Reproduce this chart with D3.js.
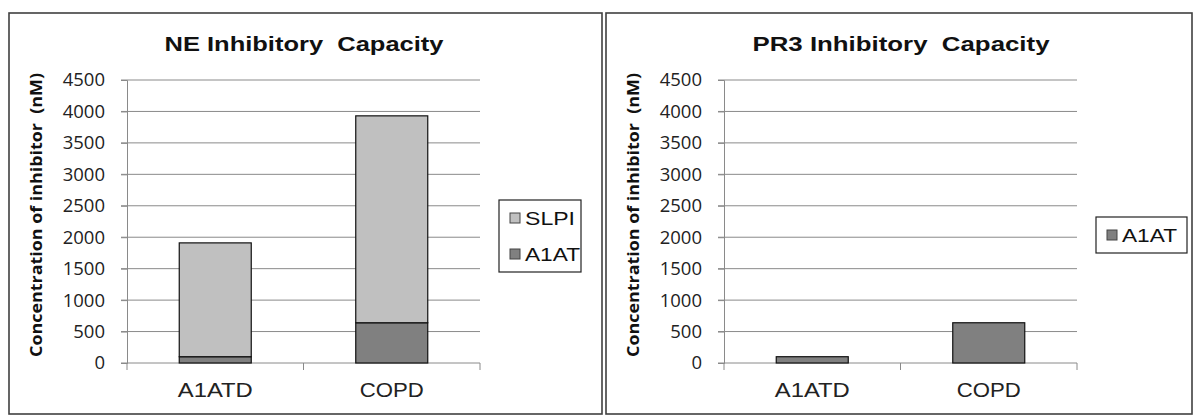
<!DOCTYPE html>
<html>
<head>
<meta charset="utf-8">
<script src="https://cdn.jsdelivr.net/npm/d3@7"></script>
<style>
  body { margin: 0; background: #fff; }
  text { white-space: pre; }
</style>
</head>
<body>
<div id="viz"></div>
<script>
const categories = ['A1ATD', 'COPD'];
const a1atValues = [100, 640];
const slpiValues = [1810, 3290];
const yTicks = [0, 500, 1000, 1500, 2000, 2500, 3000, 3500, 4000, 4500];

const colors = { SLPI: '#c0c0c0', A1AT: '#808080' };

const svg = d3.select('#viz')
      .append('svg')
      .attr('width', 1194)
      .attr('height', 417);

svg.append('rect')
    .attr('width', 1194)
    .attr('height', 417)
    .attr('fill', '#fff');

const x = d3.scaleBand()
      .domain(categories)
      .range([127, 480])
      .padding(0);

const y = d3.scaleLinear()
      .domain([0, 4500])
      .range([363, 80]);

const barW = 72;

function drawPanel(dx, box, title, titleLen, keys, legend) {
  const g = svg.append('g')
        .attr('transform', `translate(${dx} 0)`);

  g.append('rect')
      .attr('x', box[0])
      .attr('y', 13)
      .attr('width', box[1] - box[0])
      .attr('height', 401)
      .attr('fill', 'none')
      .attr('stroke', '#404040')
      .attr('stroke-width', 1.6);

  g.append('text')
      .attr('x', 304)
      .attr('y', 51)
      .attr('text-anchor', 'middle')
      .attr('font-family', 'Liberation Sans, Arial, sans-serif')
      .attr('font-weight', 'bold')
      .attr('font-size', 21)
      .attr('textLength', titleLen)
      .attr('lengthAdjust', 'spacingAndGlyphs')
      .attr('fill', '#111')
      .text(title);

  // gridlines
  g.append('g')
      .selectAll('line')
      .data(yTicks.filter(d => d > 0))
      .join('line')
      .attr('x1', 121)
      .attr('x2', 480)
      .attr('y1', d => y(d))
      .attr('y2', d => y(d))
      .attr('stroke', '#8a8a8a')
      .attr('stroke-width', 1);

  // y axis
  const yAxis = g.append('g')
        .attr('transform', 'translate(127 0)')
        .call(d3.axisLeft(y).tickValues(yTicks).tickFormat(d3.format('d'))
          .tickSize(6).tickPadding(16));
  yAxis.select('.domain').attr('stroke', '#8a8a8a');
  yAxis.selectAll('.tick line').attr('stroke', '#8a8a8a');
  yAxis.selectAll('.tick text')
      .attr('font-family', 'Open Sans, sans-serif')
      .attr('font-size', 18.5)
      .attr('fill', '#222');

  // x axis
  const xAxis = g.append('g')
        .attr('transform', 'translate(0 363)');
  xAxis.append('line')
      .attr('x1', 121).attr('x2', 480)
      .attr('stroke', '#8a8a8a');
  xAxis.selectAll('line.tk')
      .data([127, x('COPD'), 480])
      .join('line')
      .attr('class', 'tk')
      .attr('x1', d => d).attr('x2', d => d)
      .attr('y1', 0).attr('y2', 7)
      .attr('stroke', '#8a8a8a');
  xAxis.selectAll('text')
      .data(categories)
      .join('text')
      .attr('x', d => x(d) + x.bandwidth() / 2)
      .attr('y', 34)
      .attr('text-anchor', 'middle')
      .attr('font-family', 'Liberation Sans, Arial, sans-serif')
      .attr('font-size', 19.5)
      .attr('textLength', d => d === 'A1ATD' ? 75 : 64)
      .attr('lengthAdjust', 'spacingAndGlyphs')
      .attr('fill', '#222')
      .text(d => d);

  // bars
  const rows = categories.map((c, i) => ({ cat: c, A1AT: a1atValues[i], SLPI: slpiValues[i] }));
  const stacked = d3.stack().keys(keys)(rows);
  g.append('g')
      .selectAll('g')
      .data(stacked)
      .join('g')
      .attr('fill', s => colors[s.key])
      .selectAll('rect')
      .data(s => s)
      .join('rect')
      .attr('x', d => x(d.data.cat) + (x.bandwidth() - barW) / 2)
      .attr('y', d => y(d[1]))
      .attr('width', barW)
      .attr('height', d => y(d[0]) - y(d[1]))
      .attr('stroke', '#111')
      .attr('stroke-width', 1.2);

  // legend
  const lg = g.append('g');
  lg.append('rect')
      .attr('x', legend.x).attr('y', legend.y)
      .attr('width', legend.w).attr('height', legend.h)
      .attr('fill', '#fff')
      .attr('stroke', '#222')
      .attr('stroke-width', 1.2);
  const items = lg.selectAll('g')
        .data(legend.items)
        .join('g')
        .attr('transform', (d, i) => `translate(${legend.x + 11} ${legend.y + legend.first + i * 36})`);
  items.append('rect')
      .attr('x', 0).attr('y', -12)
      .attr('width', 10).attr('height', 10)
      .attr('fill', d => colors[d])
      .attr('stroke', '#444');
  items.append('text')
      .attr('x', 15)
      .attr('y', 0)
      .attr('font-family', 'Liberation Sans, Arial, sans-serif')
      .attr('font-size', 19)
      .attr('textLength', d => d === 'SLPI' ? 50 : 55)
      .attr('lengthAdjust', 'spacingAndGlyphs')
      .attr('fill', '#111')
      .text(d => d);

  // y label
  g.append('text')
      .attr('transform', 'translate(42 215) rotate(-90)')
      .attr('text-anchor', 'middle')
      .attr('font-family', 'Open Sans, sans-serif')
      .attr('font-weight', 'bold')
      .attr('font-size', 16.5)
      .attr('textLength', 284)
      .attr('lengthAdjust', 'spacingAndGlyphs')
      .attr('fill', '#111')
      .text('Concentration of inhibitor  (nM)');
}

drawPanel(0, [9, 602], 'NE Inhibitory  Capacity', 279, ['A1AT', 'SLPI'],
  { x: 499, y: 200, w: 82, h: 72, first: 25, items: ['SLPI', 'A1AT'] });

drawPanel(597, [9, 595], 'PR3 Inhibitory  Capacity', 297, ['A1AT'],
  { x: 499, y: 217, w: 91, h: 36, first: 25, items: ['A1AT'] });
</script>
</body>
</html>
